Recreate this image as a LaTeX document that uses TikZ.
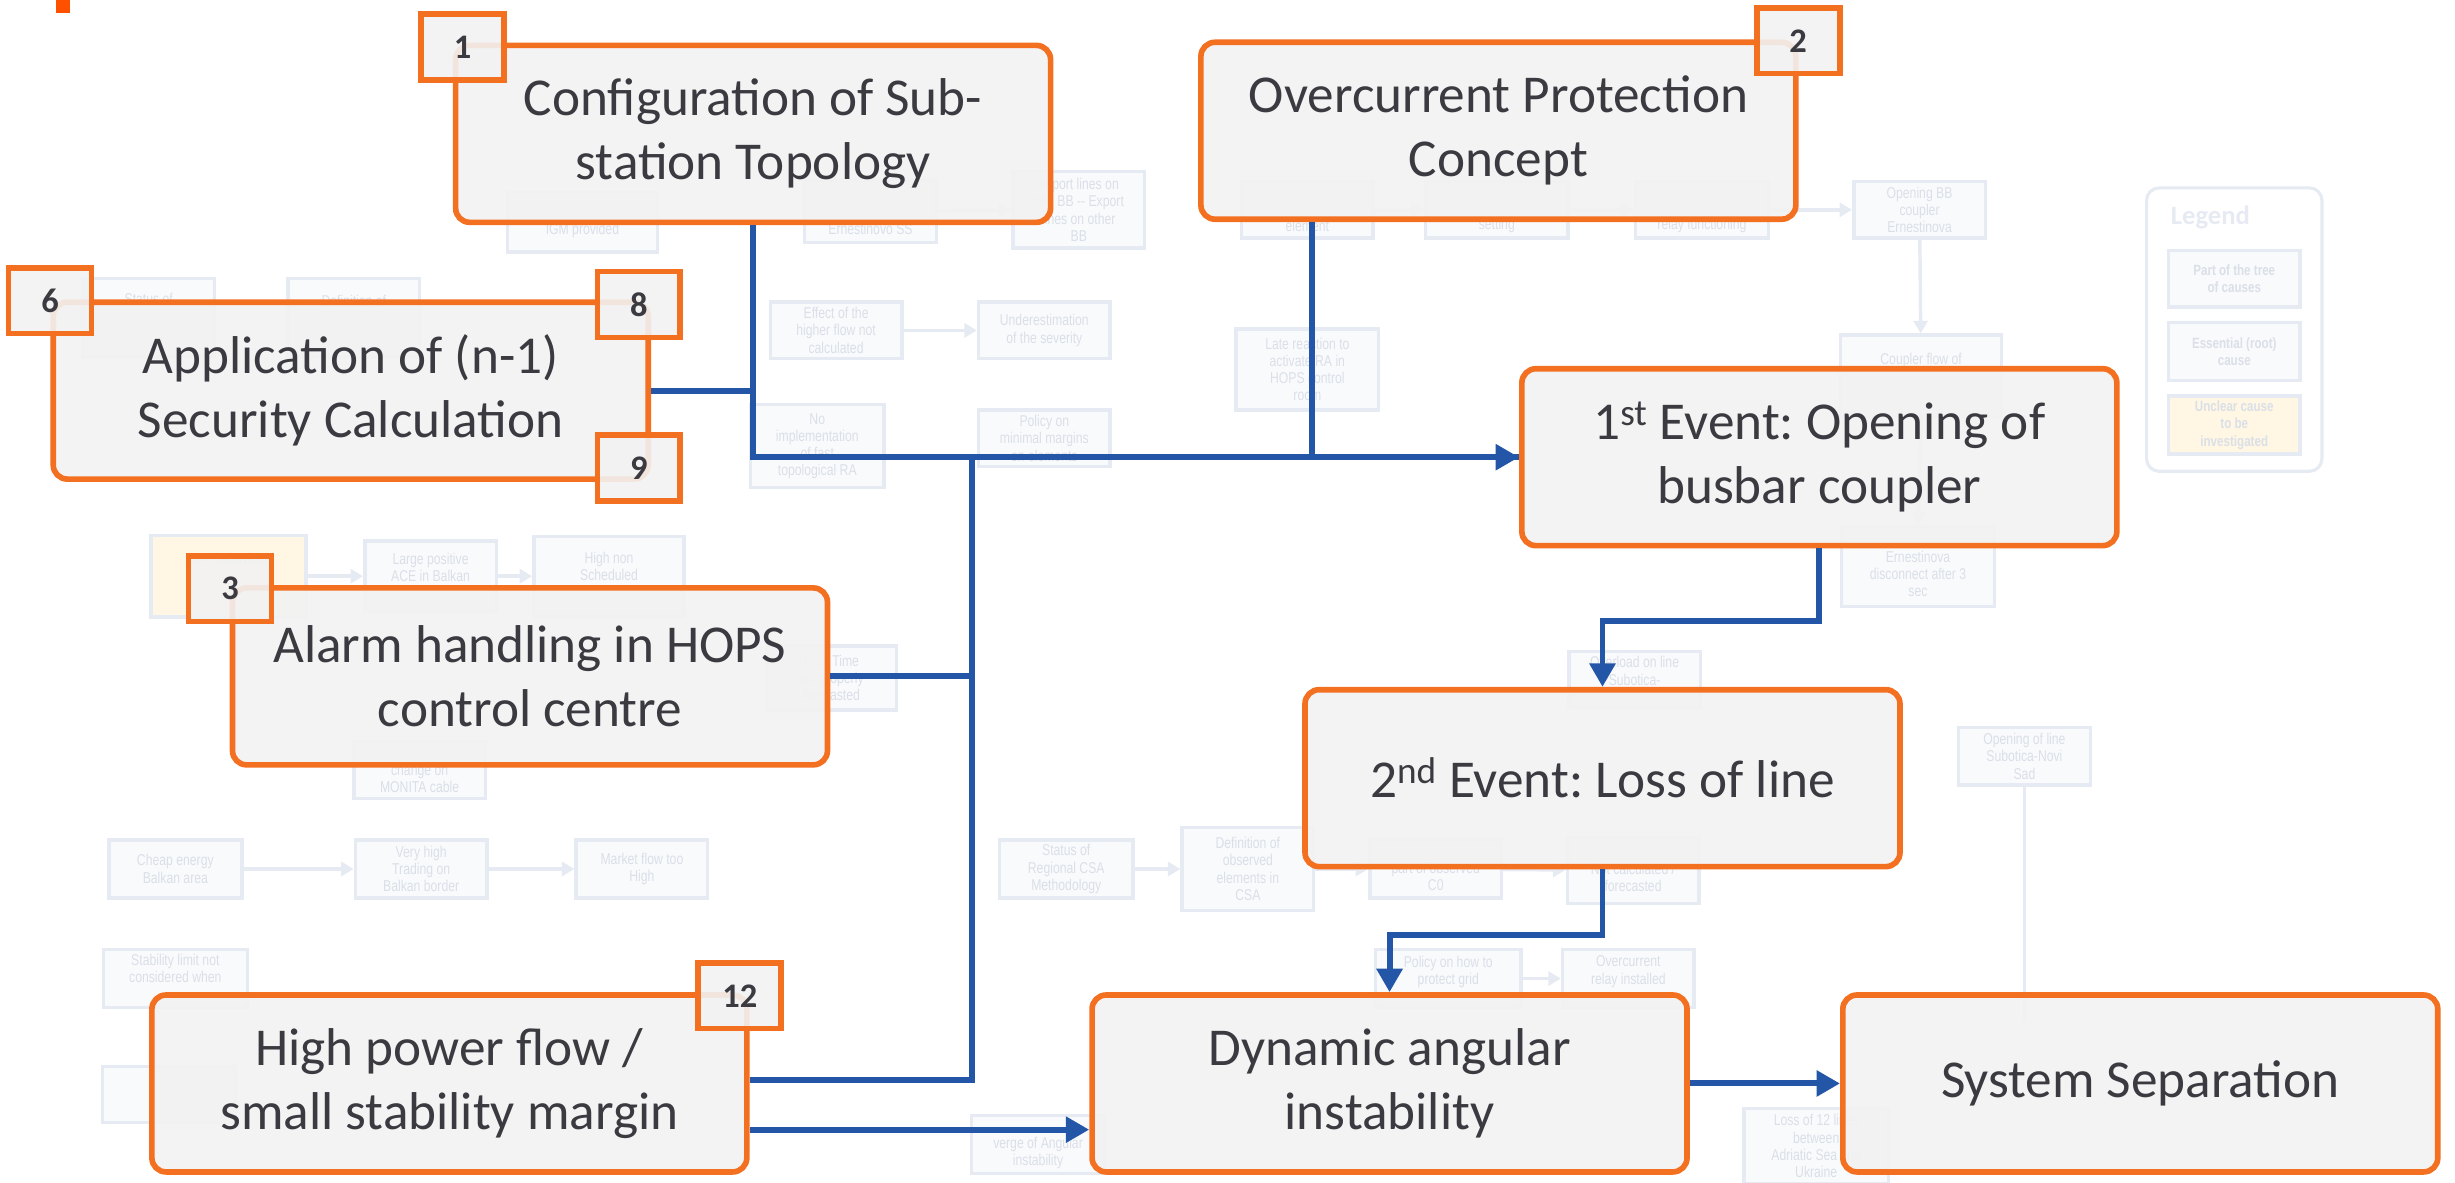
\documentclass[tikz,border=0pt]{standalone}
\usepackage{fontspec}
\setmainfont{Carlito}
\newfontfamily\narrowfont[FakeStretch=0.78]{Liberation Sans}
\usetikzlibrary{arrows.meta}
\frenchspacing

\definecolor{rcaOrange}{HTML}{F37021}
\definecolor{rcaBlue}{HTML}{2356A6}
\definecolor{rcaFill}{HTML}{F2F2F2}
\definecolor{rcaText}{HTML}{3A3A40}
\definecolor{bgLine}{HTML}{E6EAF2}
\definecolor{bgFill}{HTML}{F9FAFC}
\definecolor{bgText}{HTML}{DADFE8}
\definecolor{bgYellow}{HTML}{FFF7E3}
\definecolor{logoRed}{HTML}{FF5000}

\newcommand{\hid}[1]{\phantom{#1}}

\tikzset{
  cause/.style={draw=rcaOrange, line width=3.6pt, rounded corners=9pt,
    fill=rcaFill, fill opacity=.93, text opacity=1, text=rcaText,
    minimum width=380pt, minimum height=113pt, inner sep=0pt,
    align=center, font=\fontsize{34}{41}\selectfont},
  numtag/.style={draw=rcaOrange, line width=3.6pt, fill=rcaFill,
    fill opacity=.9, text opacity=1, text=rcaText, inner sep=0pt,
    minimum width=53pt, minimum height=42pt,
    font=\fontsize{22}{22}\selectfont\bfseries},
  causelink/.style={draw=rcaBlue, line width=3.8pt},
  causearrow/.style={causelink, -{Triangle[length=15pt,width=16pt]}},
  bgbox/.style={draw=bgLine, line width=2.2pt, fill=bgFill, text=bgText,
    inner sep=1pt, align=center, font=\narrowfont\fontsize{10}{11}\selectfont},
  bglink/.style={draw=bgLine, line width=2.2pt},
  bgarrow/.style={bglink, -{Triangle[length=8pt,width=9pt]}},
}

\begin{document}
\begin{tikzpicture}[x=1pt,y=-1pt]
\useasboundingbox (0,0) rectangle (1568,755);
\fill[logoRed] (36,0) rectangle (45,8);

% faded tree of causes in the background
\foreach \nm/\cx/\cy/\w/\h/\txt in {
  bgIgm/372/142/96/38/{\hid{Quality}\\IGM provided},
  bgNorm/556/135/84/40/{\hid{Normal}\\\hid{Configuration of}\\Ernestinovo SS},
  bgImp/689/134/84/49/{Import lines on\\one BB -- Export\\lines on other\\BB},
  bgElem/835/134/84/36/{\hid{x}\\\hid{x}\\element},
  bgSet/956/134/91/36/{\hid{x}\\\hid{x}\\setting},
  bgRelay/1087/134/85/36/{\hid{x}\\\hid{x}\\relay functioning},
  bgOpen/1226/134/84/36/{Opening BB\\coupler\\Ernestinova},
  bgCoup/1227/240/103/52/{Coupler flow of\\\hid{x}\\\hid{x}},
  bgDisc/1225/362/98/51/{\hid{x}\\Ernestinova\\disconnect after 3\\sec},
  bgStat/95/203/84/50/{Status of\\\hid{Regional CSA}\\\hid{Methodology}},
  bgDef/226/203/84/50/{Definition of\\\hid{x}\\\hid{x}},
  bgEff/534/211/84/36/{Effect of the\\higher flow not\\calculated},
  bgUnd/667/211/84/36/{Underestimation\\of the severity},
  bgLate/835/236/91/52/{Late reaction to\\activate RA in\\HOPS control\\room},
  bgNoimp/522/285/85/53/{No\\implementation\\of fast\\topological RA},
  bgPol/667/280/84/36/{Policy on\\minimal margins\\on elements},
  bgAce/275/368/84/45/{Large positive\\ACE in Balkan\\\hid{x}},
  bgSched/389/368/96/51/{High non\\Scheduled\\\hid{exchange}},
  bgReal/531/433/83/41/{Real Time\\not properly\\forecasted},
  bgMon/268/492/84/36/{\hid{Frequent}\\change on\\MONITA cable},
  bgCheap/112/555/85/37/{Cheap energy\\Balkan area},
  bgTrade/269/555/84/37/{Very high\\Trading on\\Balkan border},
  bgMkt/410/555/84/37/{Market flow too\\High},
  bgStab/112/625/92/37/{Stability limit not\\considered when\\\hid{allocating}},
  bgCoord/108/699/85/36/{\hid{Coordinated}\\\hid{DA NTC}\\\hid{Methods}},
  bgStatB/681/555/85/37/{Status of\\Regional CSA\\Methodology},
  bgDefB/797/555/84/53/{Definition of\\observed\\elements in\\CSA},
  bgPart/917/555/84/37/{\hid{x}\\part of observed\\C0},
  bgCalc/1043/556/84/42/{\hid{x}\\Not calculated /\\forecasted},
  bgProt/925/625/93/37/{Policy on how to\\protect grid\\\hid{x}},
  bgRelB/1040/625/84/37/{Overcurrent\\relay installed\\\hid{x}},
  bgVerge/663/731/85/37/{\hid{System on the}\\verge of Angular\\instability},
  bgLoss/1160/732/92/48/{Loss of 12 lines\\between\\Adriatic Sea and\\Ukraine},
  bgSub/1293/483/84/37/{Opening of line\\Subotica-Novi\\Sad},
  bgOver/1044/434/84/36/{Overload on line\\Subotica-\\\hid{x}}}
  \node[bgbox, minimum width=\w pt, minimum height=\h pt] (\nm) at (\cx,\cy) {\txt};
\node[bgbox, fill=bgYellow, minimum width=99pt, minimum height=52pt] (bgLfc) at (146,368) {LFC behaviour\\\hid{x}\\\hid{x}};

\draw[bgarrow] (bgNorm) -- (bgImp);
\draw[bgarrow] (bgElem) -- (bgSet);
\draw[bgarrow] (bgSet) -- (bgRelay);
\draw[bgarrow] (bgRelay) -- (bgOpen);
\draw[bgarrow] (bgOpen) -- (bgCoup);
\draw[bgarrow] (bgEff) -- (bgUnd);
\draw[bgarrow] (bgLfc) -- (bgAce);
\draw[bgarrow] (bgAce) -- (bgSched);
\draw[bgarrow] (bgCheap) -- (bgTrade);
\draw[bgarrow] (bgTrade) -- (bgMkt);
\draw[bgarrow] (bgStatB) -- (bgDefB);
\draw[bgarrow] (bgDefB) -- (bgPart);
\draw[bgarrow] (bgPart) -- (bgCalc);
\draw[bgarrow] (bgProt) -- (bgRelB);
\draw[bgarrow] (bgCoup.south) -- (bgDisc.north);
\draw[bglink] (bgSub.south) -- ++(0,150);

% legend
\node[draw=bgLine, line width=2pt, rounded corners=8pt,
  minimum width=112pt, minimum height=181pt] (legend) at (1427,210.5) {};
\node[anchor=west, text=bgLine, font=\fontsize{17}{17}\selectfont\bfseries]
  (legendTitle) at (1383,139) {Legend};
\node[bgbox, font=\narrowfont\fontsize{9.5}{11}\selectfont\bfseries,
  minimum width=84pt, minimum height=36pt] (legPart) at (1427,178) {Part of the tree\\of causes};
\node[bgbox, font=\narrowfont\fontsize{9.5}{11}\selectfont\bfseries,
  minimum width=84pt, minimum height=37pt] (legRoot) at (1427,224.5) {Essential (root)\\cause};
\node[bgbox, fill=bgYellow, font=\narrowfont\fontsize{9.5}{11}\selectfont\bfseries,
  minimum width=84pt, minimum height=37pt] (legUnclear) at (1427,271.5) {Unclear cause\\to be\\investigated};

% main causes
\node[cause] (cfg) at (481,85.5) {Configuration of Sub-\\station Topology};
\node[cause] (ocp) at (957,83.5) {Overcurrent Protection\\Concept};
\node[cause] (nmin) at (224,249.5) {Application of (n-1)\\Security Calculation};
\node[cause] (alarm) at (338.5,432) {Alarm handling in HOPS\\control centre};
\node[cause] (flow) at (287,692) {High power flow /\\small stability margin};
\node[cause] (ev1) at (1162,292) {1\textsuperscript{st} Event: Opening of\\busbar coupler};
\node[cause] (ev2) at (1023.5,497) {2\textsuperscript{nd} Event: Loss of line};
\node[cause] (dyn) at (887.5,692) {Dynamic angular\\instability};
\node[cause] (sep) at (1367,692) {System Separation};

% numbers of the causes
\node[numtag] (t1) at (295.5,30) {1};
\node[numtag] (t2) at (1148.5,26) {2};
\node[numtag] (t6) at (32,192) {6};
\node[numtag] (t8) at (408,194.5) {8};
\node[numtag] (t9) at (408,299) {9};
\node[numtag] (t3) at (147,376) {3};
\node[numtag] (t12) at (472.5,636) {12};

% links
\coordinate (bus) at (621,292);
\draw[causearrow] (cfg.south) |- (ev1.west);
\draw[causelink] (nmin.east) -- (nmin.east -| cfg.south);
\draw[causelink] ([xshift=-119pt]ocp.south) |- (ev1.west);
\draw[causelink] (alarm.east) -| (bus);
\draw[causelink] ([yshift=2pt]flow.east) -| (bus);
\draw[causearrow] ([yshift=-29.5pt]flow.east) -- ([yshift=-29.5pt]dyn.west);
\draw[causearrow] (ev1.south) -- ++(0,46.5) -| (ev2.north);
\draw[causearrow] (ev2.south) -- ++(0,42) -| (dyn.north);
\draw[causearrow] (dyn.east) -- (sep.west);
\end{tikzpicture}
\end{document}
